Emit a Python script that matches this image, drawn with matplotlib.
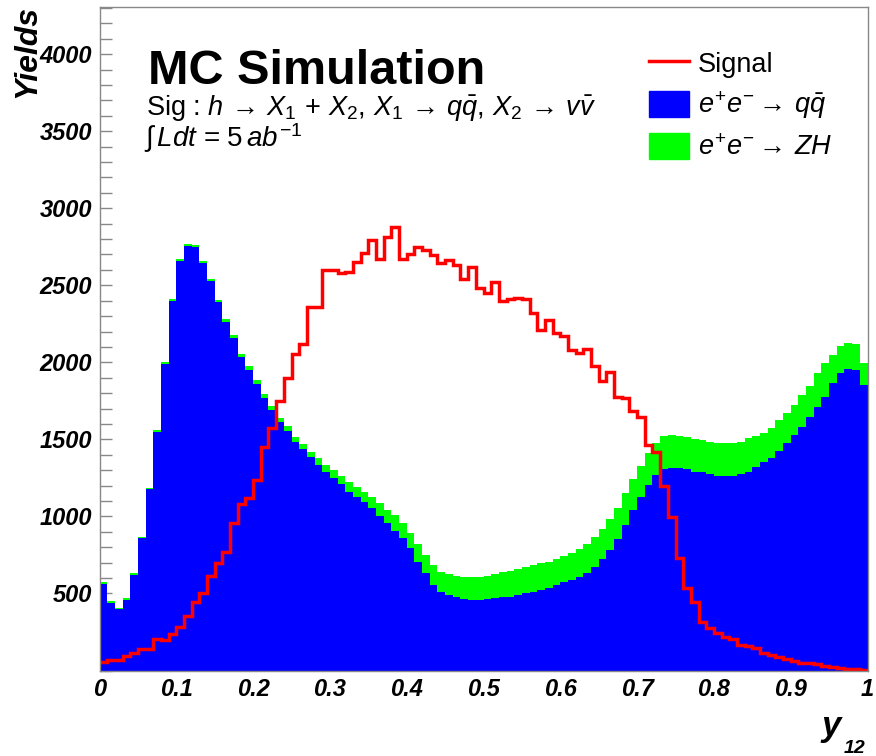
import numpy as np
import matplotlib
matplotlib.use("Agg")
import matplotlib.pyplot as plt
from matplotlib.lines import Line2D
from matplotlib.patches import Patch

plt.rcParams['font.family'] = ['Liberation Sans', 'DejaVu Sans']
plt.rcParams['mathtext.fontset'] = 'custom'
plt.rcParams['mathtext.rm'] = 'Liberation Sans'
plt.rcParams['mathtext.it'] = 'Liberation Sans:italic'
plt.rcParams['mathtext.bf'] = 'Liberation Sans:bold'

# 100 bins in y12, 0..1
edges = np.linspace(0, 1, 101)

# e+e- -> qqbar (bottom of the stack)
qq = [560, 440, 397, 460, 620, 858, 1176, 1551, 1988, 2399,
      2660, 2756, 2748, 2642, 2526, 2391, 2263, 2161, 2036, 1951,
      1861, 1768, 1690, 1610, 1557, 1486, 1436, 1384, 1334, 1287,
      1248, 1211, 1161, 1129, 1092, 1053, 1005, 956, 908, 858,
      793, 707, 631, 555, 512, 490, 475, 464, 458, 458,
      462, 469, 475, 479, 490, 501, 512, 523, 534, 555,
      573, 588, 609, 631, 670, 722, 782, 852, 945, 1042,
      1125, 1205, 1269, 1305, 1317, 1317, 1306, 1291, 1285, 1274,
      1265, 1263, 1265, 1276, 1291, 1323, 1350, 1382, 1427, 1475,
      1529, 1583, 1644, 1713, 1778, 1865, 1930, 1956, 1951, 1854]

# e+e- -> ZH (stacked on top)
zh = [13, 11, 11, 9, 11, 11, 11, 11, 11, 11,
      10, 13, 13, 13, 14, 15, 17, 18, 19, 22,
      25, 25, 28, 28, 31, 32, 35, 37, 44, 47,
      54, 52, 65, 65, 69, 72, 85, 86, 102, 102,
      102, 114, 119, 130, 130, 137, 141, 145, 151, 151,
      152, 156, 163, 169, 169, 173, 173, 173, 173, 169,
      170, 173, 178, 188, 195, 195, 200, 205, 206, 202,
      203, 205, 206, 215, 212, 206, 208, 210, 212, 212,
      210, 212, 210, 210, 217, 200, 194, 191, 200, 199,
      195, 206, 203, 217, 217, 184, 173, 169, 169, 141]

# signal
sig = [55, 68, 68, 96, 116, 142, 142, 202, 198, 235,
       285, 356, 447, 505, 616, 696, 769, 960, 1081, 1118,
       1237, 1449, 1573, 1750, 1900, 2055, 2118, 2358, 2362, 2596,
       2596, 2579, 2583, 2651, 2709, 2791, 2670, 2813, 2878, 2670,
       2703, 2748, 2726, 2694, 2644, 2666, 2629, 2542, 2620, 2482,
       2449, 2521, 2395, 2410, 2417, 2410, 2319, 2211, 2276, 2190,
       2172, 2081, 2060, 2086, 1977, 1880, 1934, 1774, 1767, 1681,
       1644, 1464, 1421, 1200, 997, 728, 534, 447, 317, 278,
       246, 220, 205, 166, 159, 144, 112, 101, 86, 75,
       64, 51, 47, 40, 31, 25, 18, 12, 8, 4]

qq = np.array(qq)
zh = np.array(zh)
sig = np.array(sig)

W, H = 876, 756
fig = plt.figure(figsize=(W/100, H/100), dpi=100)
ax = fig.add_axes([99.5/W, 1 - 670.5/H, 768/W, 663.5/H])

ax.stairs(qq + zh, edges, fill=True, color='#00ff00', zorder=1)
ax.stairs(qq, edges, fill=True, color='#0000ff', zorder=2)
ax.stairs(sig, edges, baseline=None, color='#ff0000', lw=2.5, zorder=3)

ax.set_xlim(0, 1)
ax.set_ylim(0, 4306)

ax.set_xticks(np.arange(0, 1.01, 0.1))
ax.set_xticklabels(['0'] + ['%.1f' % v for v in np.arange(0.1, 0.95, 0.1)] + ['1'])
ax.set_yticks(np.arange(500, 4001, 500))
ax.set_yticks(np.arange(0, 4301, 100), minor=True)

for lab in ax.get_xticklabels() + ax.get_yticklabels():
    lab.set_fontsize(17)
    lab.set_fontweight('bold')
    lab.set_fontstyle('italic')

ax.tick_params(axis='x', which='both', length=0, pad=5.5)
ax.tick_params(axis='y', which='both', direction='in', length=8.5,
               color='#888888', width=1, pad=5.5)
ax.tick_params(axis='y', which='minor', left=True)

for sp in ax.spines.values():
    sp.set_color('#888888')
    sp.set_linewidth(1)
    sp.set_zorder(5)

# axis titles
fig.text(27/W, 1 - 5/H, 'Yields', rotation=90, ha='center', va='top',
         fontsize=23, fontweight='bold', fontstyle='italic')
fig.text(821/W, 1 - 736/H, 'y', ha='left', va='baseline',
         fontsize=25, fontweight='bold', fontstyle='italic')
fig.text(844/W, 1 - 753/H, '12', ha='left', va='baseline',
         fontsize=14, fontweight='bold', fontstyle='italic')

# labels
fig.text(148/W, 1 - 84/H, 'MC Simulation', ha='left', va='baseline',
         fontsize=35, fontweight='bold')
fig.text(146/W, 1 - 116/H,
         r'Sig : $h\,\rightarrow\,X_1\,+\,X_2,\,X_1\,\rightarrow\,q\bar{q},\,X_2\,\rightarrow\,v\bar{v}$',
         ha='left', va='baseline', fontsize=19.5)
fig.text(144/W, 1 - 147/H, r'$\int\,Ldt$ = 5$\,ab^{-1}$',
         ha='left', va='baseline', fontsize=20)

handles = [Line2D([], [], color='#ff0000', lw=2.5),
           Patch(color='#0000ff'),
           Patch(color='#00ff00')]
labels = ['Signal', r'$e^{+}e^{-} \rightarrow\,q\bar{q}$', r'$e^{+}e^{-} \rightarrow\,ZH$']
ax.legend(handles, labels, loc='upper left', bbox_to_anchor=(649/W, 1 - 50/H),
          bbox_transform=fig.transFigure, frameon=False, fontsize=19.5,
          handlelength=1.48, handleheight=1.1, handletextpad=0.33,
          labelspacing=0.42, borderpad=0, borderaxespad=0)

fig.savefig('out.png', dpi=100)
